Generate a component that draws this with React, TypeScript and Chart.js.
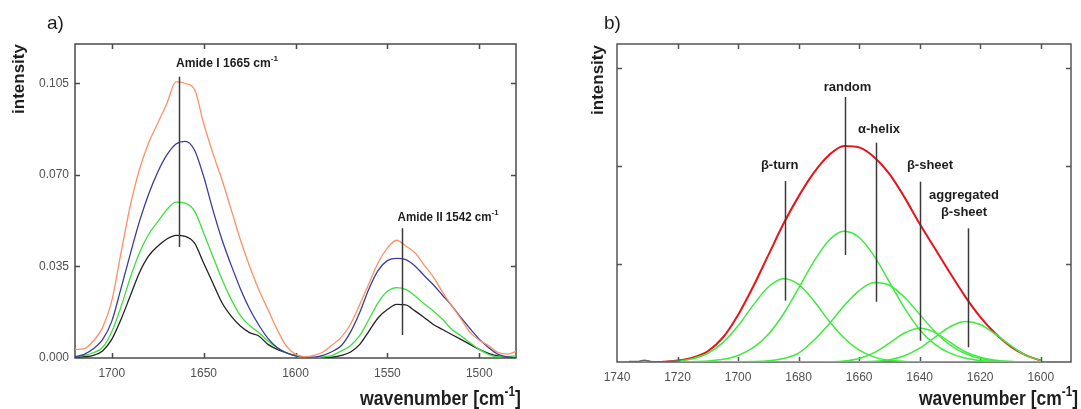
import React, { useEffect, useRef } from "react";
import { Chart, registerables } from "chart.js";

Chart.register(...registerables);

const FONT = "'Liberation Sans', Arial, Helvetica, sans-serif";

// ---------------- panel a data ----------------
const wavenumbersA = [
  1720, 1715, 1710, 1705, 1700, 1695, 1690, 1685, 1680, 1675, 1670, 1665, 1660, 1655, 1650, 1645, 1640,
  1635, 1630, 1625, 1620, 1615, 1610, 1605, 1600, 1595, 1590, 1585, 1580, 1575, 1570, 1565, 1560, 1555,
  1550, 1545, 1540, 1535, 1530, 1525, 1520, 1515, 1510, 1505, 1500, 1495, 1490, 1485, 1480,
];
const spectrumOrange = [
  0.0033, 0.0036, 0.0065, 0.0116, 0.0217, 0.0401, 0.0579, 0.0719, 0.0821, 0.0897, 0.0973, 0.1056, 0.1049,
  0.1027, 0.0897, 0.0783, 0.0681, 0.0567, 0.0452, 0.0351, 0.0262, 0.0185, 0.0109, 0.0046, 0.0014, 0.0005,
  0.001, 0.0023, 0.005, 0.008, 0.013, 0.0205, 0.0285, 0.0365, 0.042, 0.045, 0.0428, 0.0402, 0.0355, 0.031,
  0.0252, 0.02, 0.015, 0.0098, 0.0068, 0.0048, 0.0022, 0.0015, 0.0025,
];
const spectrumBlue = [
  0.0005, 0.0014, 0.0035, 0.007, 0.014, 0.0265, 0.0395, 0.052, 0.0625, 0.071, 0.0776, 0.0818, 0.0828,
  0.0795, 0.0694, 0.0567, 0.0452, 0.0355, 0.0265, 0.0188, 0.0126, 0.0075, 0.004, 0.002, 0.0008, 0.0003,
  0.0003, 0.001, 0.0025, 0.0048, 0.01, 0.0175, 0.0265, 0.0335, 0.0372, 0.0381, 0.0376, 0.0352, 0.0315,
  0.028, 0.024, 0.02, 0.0155, 0.0112, 0.0072, 0.004, 0.0015, 0.0004, 0.0001,
];
const spectrumGreen = [
  0.0005, 0.001, 0.002, 0.004, 0.01, 0.0195, 0.0305, 0.04, 0.0472, 0.052, 0.0567, 0.0596, 0.0592, 0.0562,
  0.0478, 0.0389, 0.03, 0.0224, 0.0162, 0.0124, 0.0097, 0.0065, 0.0039, 0.002, 0.0008, 0.0001, 0.0001,
  0.0004, 0.001, 0.0027, 0.0048, 0.0086, 0.0148, 0.0212, 0.0255, 0.0269, 0.0262, 0.0238, 0.0207, 0.018,
  0.0148, 0.011, 0.0085, 0.0058, 0.0033, 0.0014, 0.0005, 0.0005, 0.0008,
];
const spectrumBlack = [
  0.0003, 0.0005, 0.001, 0.0027, 0.0071, 0.0147, 0.0236, 0.0325, 0.0389, 0.0427, 0.0455, 0.0469, 0.0465,
  0.044, 0.0363, 0.0287, 0.0211, 0.016, 0.0122, 0.0097, 0.0084, 0.0052, 0.0033, 0.002, 0.001, 0.0003, 0.0,
  0.0, 0.0003, 0.001, 0.0023, 0.0052, 0.0103, 0.0154, 0.0185, 0.0205, 0.0203, 0.018, 0.0155, 0.0128,
  0.0109, 0.009, 0.0071, 0.0052, 0.0033, 0.0018, 0.0008, 0.0004, 0.0001,
];
const xTicksA = [1700, 1650, 1600, 1550, 1500];
const yTicksA = [0, 0.035, 0.07, 0.105];
const amideNames = ["Amide I 1665 cm", "Amide II 1542 cm"];
const amideWavenumbers = [1663.5, 1542];
const amideLineTops = [0.1075, 0.0496];
const amideLineBottoms = [0.0424, 0.0088];

// ---------------- panel b data ----------------
const wavenumbersB = [
  1735, 1730, 1725, 1720, 1715, 1710, 1705, 1700, 1695, 1690, 1685, 1680, 1675, 1670, 1665, 1660, 1655,
  1650, 1645, 1640, 1635, 1630, 1625, 1620, 1615, 1610, 1605, 1600,
];
const envelopeB = [
  null, null, 0.003, 0.015, 0.045, 0.11, 0.25, 0.48, 0.77, 1.09, 1.41, 1.69, 1.93, 2.11, 2.205, 2.19, 2.09,
  1.92, 1.68, 1.41, 1.16, 0.91, 0.67, 0.46, 0.29, 0.16, 0.07, 0.015,
];
const betaTurnB = [
  0, 0.001, 0.003, 0.011, 0.034, 0.089, 0.198, 0.369, 0.58, 0.765, 0.849, 0.792, 0.625, 0.42, 0.245, 0.12,
  0.05, 0.018, 0.006, 0.002, 0, 0, 0, 0, 0, 0, 0, 0,
];
const randomB = [
  0, 0, 0, 0.001, 0.003, 0.01, 0.027, 0.066, 0.146, 0.284, 0.49, 0.753, 1.025, 1.24, 1.333, 1.27, 1.08,
  0.815, 0.55, 0.33, 0.18, 0.09, 0.04, 0.015, 0.005, 0.001, 0, 0,
];
const alphaHelixB = [
  0, 0, 0, 0, 0, 0, 0.001, 0.002, 0.004, 0.012, 0.035, 0.09, 0.22, 0.385, 0.573, 0.729, 0.81, 0.783, 0.66,
  0.486, 0.311, 0.174, 0.085, 0.036, 0.013, 0.004, 0.001, 0,
];
const betaSheetB = [
  0, 0, 0, 0, 0, 0, 0, 0, 0, 0, 0, 0, 0, 0.002, 0.01, 0.036, 0.096, 0.193, 0.296, 0.344, 0.303, 0.202,
  0.105, 0.05, 0.018, 0.005, 0.001, 0,
];
const aggregatedB = [
  0, 0, 0, 0, 0, 0, 0, 0, 0, 0, 0, 0, 0, 0, 0, 0.002, 0.007, 0.023, 0.064, 0.141, 0.252, 0.36, 0.414,
  0.383, 0.284, 0.17, 0.07, 0.015,
];
const measuredXB = [1736, 1733, 1731, 1729, 1726, 1722, 1719];
const measuredYB = [0.004, 0.006, 0.018, 0.006, 0.003, 0.005, 0.012];
const xTicksB = [1740, 1720, 1700, 1680, 1660, 1640, 1620, 1600];
const yTicksB = [0, 1, 2, 3];
const bandNames = ["β-turn", "random", "α-helix", "β-sheet", "aggregated", "β-sheet"];
const bandWavenumbers = [1684.4, 1664.6, 1654.4, 1639.8, 1624];
const bandLineTops = [1.847, 2.704, 2.238, 1.84, 1.364];
const bandLineBottoms = [0.626, 1.092, 0.615, 0.217, 0.15];

// ---------------- helpers ----------------
const toXY = (xs: number[], ys: (number | null)[]) => xs.map((x, i) => ({ x, y: ys[i] }));

type Part = { t: string; size: number; bold?: boolean; rise?: number };

function drawRich(
  ctx: CanvasRenderingContext2D,
  parts: Part[],
  x: number,
  y: number,
  align: "left" | "right" | "center",
  fit: number | null,
  color: string
) {
  const font = (p: Part) => `${p.bold ? "bold " : ""}${p.size}px ${FONT}`;
  const widths = parts.map((p) => {
    ctx.font = font(p);
    return ctx.measureText(p.t).width;
  });
  const total = widths.reduce((a, b) => a + b, 0);
  const sx = fit ? fit / total : 1;
  const w = total * sx;
  let start = x;
  if (align === "right") start = x - w;
  if (align === "center") start = x - w / 2;
  ctx.save();
  ctx.translate(start, y);
  ctx.scale(sx, 1);
  ctx.fillStyle = color;
  ctx.textAlign = "left";
  ctx.textBaseline = "alphabetic";
  let cx = 0;
  parts.forEach((p, i) => {
    ctx.font = font(p);
    ctx.fillText(p.t, cx, -(p.rise || 0));
    cx += widths[i];
  });
  ctx.restore();
}

function makeX(min: number, max: number, ticks: number[], height: number) {
  return {
    type: "linear",
    reverse: true,
    min,
    max,
    afterBuildTicks: (s: any) => {
      s.ticks = ticks.map((v) => ({ value: v }));
    },
    afterFit: (s: any) => {
      s.height = height;
    },
    grid: { display: false, drawTicks: false },
    border: { display: false },
    ticks: {
      color: "#505050",
      font: { family: FONT, size: 12 },
      padding: 8,
      maxRotation: 0,
      autoSkip: false,
      callback: (v: any) => String(v),
    },
  };
}

function makeY(min: number, max: number, ticks: number[], width: number, show: boolean) {
  return {
    type: "linear",
    min,
    max,
    afterBuildTicks: (s: any) => {
      s.ticks = ticks.map((v) => ({ value: v }));
    },
    afterFit: (s: any) => {
      s.width = width;
    },
    grid: { display: false, drawTicks: false },
    border: { display: false },
    ticks: {
      display: show,
      color: "#505050",
      font: { family: FONT, size: 12 },
      padding: 6,
      callback: (v: any) => Number(v).toFixed(3),
    },
  };
}

function framePlugin(id: string, frameColor: string, lines: { x: number; top: number; bottom: number }[], drawText: (ctx: CanvasRenderingContext2D, chart: any) => void) {
  return {
    id,
    beforeDatasetsDraw(chart: any) {
      const { ctx, chartArea, scales } = chart;
      const { left, right, top, bottom } = chartArea;
      ctx.save();
      ctx.strokeStyle = frameColor;
      ctx.lineWidth = 1.5;
      ctx.strokeRect(left, top, right - left, bottom - top);
      const tl = 5;
      ctx.beginPath();
      scales.x.ticks.forEach((t: any) => {
        const px = Math.round(scales.x.getPixelForValue(t.value)) + 0.5;
        if (px <= left + 1 || px >= right - 1) return;
        ctx.moveTo(px, bottom);
        ctx.lineTo(px, bottom - tl);
        ctx.moveTo(px, top);
        ctx.lineTo(px, top + tl);
      });
      scales.y.ticks.forEach((t: any) => {
        const py = Math.round(scales.y.getPixelForValue(t.value)) + 0.5;
        if (py >= bottom - 1 || py <= top + 1) return;
        ctx.moveTo(left, py);
        ctx.lineTo(left + tl, py);
        ctx.moveTo(right, py);
        ctx.lineTo(right - tl, py);
      });
      ctx.stroke();
      ctx.restore();
    },
    afterDatasetsDraw(chart: any) {
      const { ctx, scales } = chart;
      ctx.save();
      ctx.strokeStyle = "#3a3a3a";
      ctx.lineWidth = 1.5;
      lines.forEach((l) => {
        const px = Math.round(scales.x.getPixelForValue(l.x)) + 0.5;
        ctx.beginPath();
        ctx.moveTo(px, scales.y.getPixelForValue(l.top));
        ctx.lineTo(px, scales.y.getPixelForValue(l.bottom));
        ctx.stroke();
      });
      ctx.restore();
    },
    afterDraw(chart: any) {
      drawText(chart.ctx, chart);
    },
  };
}

function rotatedLabel(ctx: CanvasRenderingContext2D, text: string, x: number, y: number) {
  ctx.save();
  ctx.translate(x, y);
  ctx.rotate(-Math.PI / 2);
  ctx.font = `bold 17px ${FONT}`;
  ctx.fillStyle = "#1e1e1e";
  ctx.textAlign = "center";
  ctx.textBaseline = "alphabetic";
  ctx.fillText(text, 0, 0);
  ctx.restore();
}

const lineDs = (label: string, data: any[], color: string, width: number) => ({
  label,
  data,
  borderColor: color,
  borderWidth: width,
  pointRadius: 0,
  fill: false,
  cubicInterpolationMode: "monotone",
  spanGaps: false,
});

function configA(): any {
  const lines = amideWavenumbers.map((x, i) => ({ x, top: amideLineTops[i], bottom: amideLineBottoms[i] }));
  const text = (ctx: CanvasRenderingContext2D) => {
    drawRich(ctx, [{ t: "a)", size: 19 }], 47, 28.5, "left", null, "#1e1e1e");
    rotatedLabel(ctx, "intensity", 24, 79);
    drawRich(
      ctx,
      [
        { t: "wavenumber [cm", size: 21, bold: true },
        { t: "-1", size: 14, bold: true, rise: 9 },
        { t: "]", size: 21, bold: true },
      ],
      521,
      405,
      "right",
      161,
      "#1e1e1e"
    );
    drawRich(
      ctx,
      [
        { t: amideNames[0], size: 12, bold: true },
        { t: "-1", size: 8, bold: true, rise: 6 },
      ],
      176,
      67,
      "left",
      102,
      "#1e1e1e"
    );
    drawRich(
      ctx,
      [
        { t: amideNames[1], size: 12, bold: true },
        { t: "-1", size: 8, bold: true, rise: 6 },
      ],
      397.5,
      220.5,
      "left",
      101,
      "#1e1e1e"
    );
  };
  return {
    type: "line",
    data: {
      datasets: [
        lineDs("orange", toXY(wavenumbersA, spectrumOrange), "#FF8F66", 1.3),
        lineDs("blue", toXY(wavenumbersA, spectrumBlue), "#3B3BA0", 1.3),
        lineDs("green", toXY(wavenumbersA, spectrumGreen), "#3EE03E", 1.3),
        lineDs("black", toXY(wavenumbersA, spectrumBlack), "#222222", 1.3),
      ],
    },
    options: {
      responsive: false,
      animation: false,
      devicePixelRatio: 1,
      parsing: true,
      layout: { padding: { left: 0, right: 24, top: 44, bottom: 0 } },
      plugins: { legend: { display: false }, tooltip: { enabled: false } },
      scales: {
        x: makeX(1480, 1720, xTicksA, 51),
        y: makeY(0, 0.12, yTicksA, 75, true),
      },
    },
    plugins: [framePlugin("frameA", "#4a4a4a", lines, text)],
  };
}

function configB(): any {
  const lines = bandWavenumbers.map((x, i) => ({ x, top: bandLineTops[i], bottom: bandLineBottoms[i] }));
  const text = (ctx: CanvasRenderingContext2D) => {
    drawRich(ctx, [{ t: "b)", size: 19 }], 64, 28.5, "left", null, "#1e1e1e");
    rotatedLabel(ctx, "intensity", 63, 80);
    drawRich(
      ctx,
      [
        { t: "wavenumber [cm", size: 21, bold: true },
        { t: "-1", size: 14, bold: true, rise: 9 },
        { t: "]", size: 21, bold: true },
      ],
      538,
      405,
      "right",
      159,
      "#1e1e1e"
    );
    const pos = [
      [239.7, 168.5],
      [307.5, 91],
      [339, 132.7],
      [390, 169],
      [424, 198.7],
      [424, 215.5],
    ];
    bandNames.forEach((n, i) => {
      drawRich(ctx, [{ t: n, size: 13, bold: true }], pos[i][0], pos[i][1], "center", null, "#1e1e1e");
    });
  };
  return {
    type: "line",
    data: {
      datasets: [
        lineDs("measured", toXY(measuredXB, measuredYB), "#666666", 1.5),
        lineDs("β-turn", toXY(wavenumbersB, betaTurnB), "#3DEB3D", 1.5),
        lineDs("random", toXY(wavenumbersB, randomB), "#3DEB3D", 1.5),
        lineDs("α-helix", toXY(wavenumbersB, alphaHelixB), "#3DEB3D", 1.5),
        lineDs("β-sheet", toXY(wavenumbersB, betaSheetB), "#3DEB3D", 1.5),
        lineDs("aggregated β-sheet", toXY(wavenumbersB, aggregatedB), "#3DEB3D", 1.5),
        lineDs("envelope", toXY(wavenumbersB, envelopeB), "#E8121A", 2),
      ],
    },
    options: {
      responsive: false,
      animation: false,
      devicePixelRatio: 1,
      layout: { padding: { left: 0, right: 10, top: 44, bottom: 0 } },
      plugins: { legend: { display: false }, tooltip: { enabled: false } },
      scales: {
        x: makeX(1590, 1740, xTicksB, 47),
        y: makeY(0, 3.245, yTicksB, 77, false),
      },
    },
    plugins: [framePlugin("frameB", "#555555", lines, text)],
  };
}

export default function App() {
  const refA = useRef<HTMLCanvasElement>(null);
  const refB = useRef<HTMLCanvasElement>(null);
  useEffect(() => {
    const a = new Chart(refA.current as HTMLCanvasElement, configA());
    const b = new Chart(refB.current as HTMLCanvasElement, configB());
    return () => {
      a.destroy();
      b.destroy();
    };
  }, []);
  return (
    <div style={{ position: "absolute", left: 0, top: 0, width: 1081, height: 409, background: "#ffffff" }}>
      <canvas
        ref={refA}
        width={540}
        height={409}
        style={{ position: "absolute", left: 0, top: 0, width: 540, height: 409 }}
      />
      <canvas
        ref={refB}
        width={541}
        height={409}
        style={{ position: "absolute", left: 540, top: 0, width: 541, height: 409 }}
      />
    </div>
  );
}
